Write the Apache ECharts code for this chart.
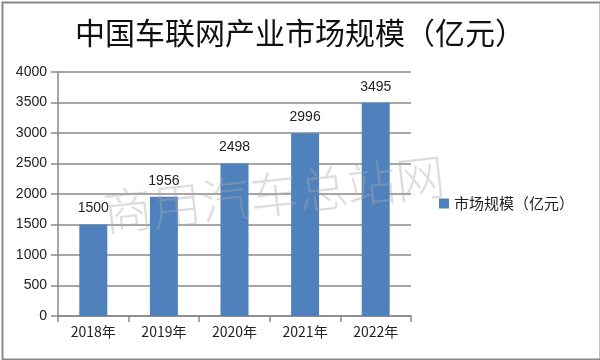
<!DOCTYPE html>
<html><head><meta charset="utf-8">
<script src="https://cdn.jsdelivr.net/npm/echarts@6/dist/echarts.min.js"></script>
<style>html,body{margin:0;padding:0;background:#fff}#c{width:600px;height:360px}</style>
</head><body><div id="c"></div>
<script>
const categories = ['2018年','2019年','2020年','2021年','2022年'];
const values = [1500, 1956, 2498, 2996, 3495];
const seriesName = '市场规模（亿元）';
const titleText = '中国车联网产业市场规模（亿元）';
const watermark = '商用汽车总站网';
const chart = echarts.init(document.getElementById('c'), null, {renderer:'canvas'});
chart.setOption({
  animation: false,
  backgroundColor: '#fff',
  title: {text: titleText, left: 'center', top: 13,
    textStyle: {fontFamily: 'Noto Sans CJK SC', fontSize: 30, fontWeight: 'normal', color: '#111'}},
  legend: {data: [seriesName], orient: 'vertical', left: 434, top: 191, itemWidth: 10, itemHeight: 10,
    icon: 'rect', itemGap: 6,
    textStyle: {fontFamily: 'Noto Sans CJK SC', fontSize: 15, color: '#222'}},
  grid: {left: 58, right: 189, top: 72, bottom: 44, containLabel: false},
  xAxis: {type: 'category', data: categories,
    axisLine: {lineStyle: {color: '#888', width: 1.5}},
    axisTick: {show: true, length: 6, lineStyle: {color: '#888', width: 1.5}},
    axisLabel: {fontFamily: 'Noto Sans CJK SC', fontSize: 14, color: '#222', margin: 9}},
  yAxis: {type: 'value', min: 0, max: 4000, interval: 500,
    axisLine: {show: true, lineStyle: {color: '#888', width: 1.5}},
    axisTick: {show: true, length: 7, lineStyle: {color: '#888', width: 1.5}},
    splitLine: {lineStyle: {color: '#888', width: 1.5}},
    axisLabel: {fontFamily: 'Liberation Sans', fontSize: 14, color: '#222', margin: 11,
      formatter: v => String(v)}},
  series: [{type: 'bar', name: seriesName, data: values, barWidth: 28,
    itemStyle: {color: '#4F81BD'},
    label: {show: true, position: 'top', distance: 9, fontFamily: 'Liberation Sans', fontSize: 14, color: '#222'}}],
  graphic: [
    {type: 'rect', left: 0, top: 0, shape: {width: 598, height: 357}, style: {fill: 'none', stroke: '#888', lineWidth: 2}, z: 100},
    {type: 'text', x: 274, y: 194, rotation: 0.11, z: 50,
      style: {text: watermark, fontFamily: 'Noto Sans CJK SC', fontWeight: 200, fontSize: 49,
        fill: 'rgba(170,170,170,0.4)', align: 'center', verticalAlign: 'middle'}}
  ]
});
</script></body></html>
